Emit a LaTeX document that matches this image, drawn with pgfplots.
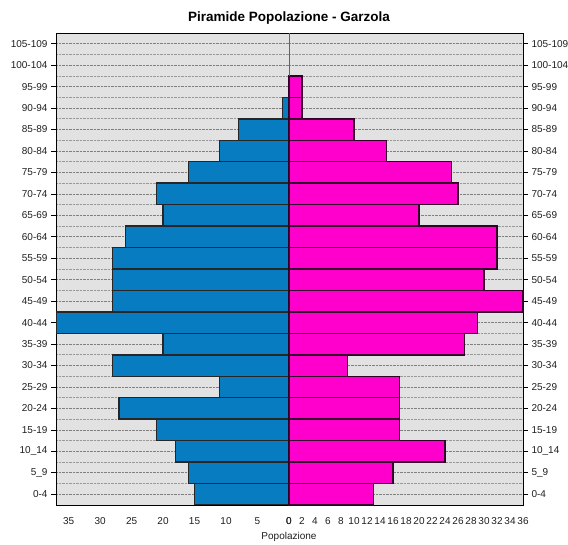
\documentclass[border=0pt]{standalone}
\usepackage{pgfplots}
\pgfplotsset{compat=1.18}
\usepackage{fontspec}
\setmainfont{Liberation Sans}
\definecolor{mblue}{RGB}{8,124,192}
\definecolor{fmag}{RGB}{255,0,204}
\definecolor{bgc}{RGB}{226,226,226}
\definecolor{tcol}{RGB}{30,30,30}
\pgfplotsset{
  pyr/.style={
    scale only axis,
    height=472pt,
    ymin=-0.5, ymax=21.5,
    ytick={0,...,21},
    yticklabels={0-4,5\_9,10\_14,15-19,20-24,25-29,30-34,35-39,40-44,45-49,50-54,55-59,60-64,65-69,70-74,75-79,80-84,85-89,90-94,95-99,100-104,105-109},
    minor y tick num=1,
    ymajorgrids, yminorgrids,
    major grid style={densely dotted, black!50, line width=0.8pt},
    minor grid style={densely dotted, black!40, line width=0.7pt},
    minor tick length=0pt,
    major tick length=5pt,
    tick align=outside,
    axis background/.style={fill=bgc},
    bar width=1,
    xtick pos=bottom,
    xtick style={draw=none},
    ytick style={black, line width=0.8pt},
    axis line style={black, line width=0.8pt},
    tick label style={font=\fontsize{10}{12}\selectfont, text=tcol},
    xticklabel style={yshift=-4pt},
    /pgf/number format/assume math mode=true,
  }
}
\begin{document}
\begin{tikzpicture}[x=1pt,y=1pt]
\path[use as bounding box] (0,0) rectangle (568,545);
% Males (left)
\begin{axis}[pyr,
  at={(56pt,40pt)}, anchor=south west,
  width=233pt,
  xmin=-37, xmax=0,
  xtick={-35,-30,-25,-20,-15,-10,-5,0},
  xticklabels={35,30,25,20,15,10,5,0},
  ytick pos=left,
]
\addplot[xbar, fill=mblue, draw=black!85, line width=1.4pt] coordinates {
(-15,0) (-16,1) (-18,2) (-21,3) (-27,4) (-11,5) (-28,6) (-20,7) (-37,8) (-28,9) (-28,10) (-28,11) (-26,12) (-20,13) (-21,14) (-16,15) (-11,16) (-8,17) (-1,18)
};
\end{axis}
% Females (right)
\begin{axis}[pyr,
  at={(289pt,40pt)}, anchor=south west,
  width=234pt,
  xmin=0, xmax=36,
  xtick={0,2,...,36},
  ytick pos=right,
  yticklabel pos=right,
  clip=false,
]
\addplot[xbar, fill=fmag, draw=black!80!fmag, line width=1.4pt] coordinates {
(13,0) (16,1) (24,2) (17,3) (17,4) (17,5) (9,6) (27,7) (29,8) (36,9) (30,10) (32,11) (32,12) (20,13) (26,14) (25,15) (15,16) (10,17) (2,18) (2,19)
};
\end{axis}
% magenta zero line above the bars
\begin{axis}[scale only axis, at={(289pt,40pt)}, anchor=south west,
  width=234pt, height=472pt, xmin=0, xmax=36, ymin=-0.5, ymax=21.5,
  hide axis, clip=false]
\addplot[sharp plot, no marks, fmag, line width=1pt] coordinates {(0,19.5) (0,21.5)};
\end{axis}
\node[font=\bfseries\fontsize{13.5}{16}\selectfont] at (289,527) {Piramide Popolazione - Garzola};
\node[font=\fontsize{10}{12}\selectfont, text=tcol] at (289,8) {Popolazione};
\end{tikzpicture}
\end{document}
